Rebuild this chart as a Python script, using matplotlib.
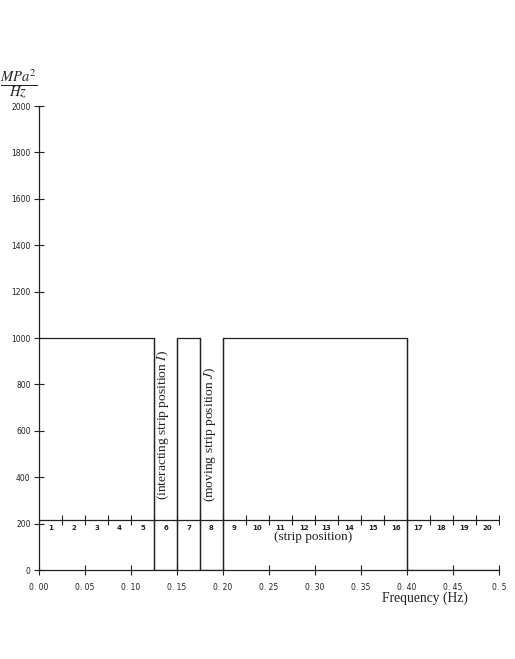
import numpy as np
import matplotlib.pyplot as plt

# PSD piecewise-constant spectrum (MPa^2/Hz)
freq_edges = [0.0, 0.125, 0.15, 0.175, 0.2, 0.4, 0.5]
psd_levels = [1000, 0, 1000, 0, 1000, 0]

# strip position scale
strip_labels = [str(k) for k in range(1, 21)]
strip_width = 0.025
strip_level = 215

x_ticks = [0.0, 0.05, 0.10, 0.15, 0.20, 0.25, 0.30, 0.35, 0.40, 0.45, 0.5]
x_ticklabels = ["0. 00", "0. 05", "0. 10", "0. 15", "0. 20", "0. 25",
                "0. 30", "0. 35", "0. 40", "0. 45", "0. 5"]
y_ticks = list(range(0, 2001, 200))

ink = "#222222"
serif = "Liberation Serif"
plt.rcParams["mathtext.fontset"] = "stix"

fig = plt.figure(figsize=(5.15, 6.59), dpi=100)
ax = fig.add_axes([39 / 515, 1 - 570 / 659, 460 / 515, 464 / 659])

# spectrum
ax.stairs(psd_levels, freq_edges, baseline=None, color=ink, lw=0.9)
for e in freq_edges[1:-1]:
    ax.plot([e, e], [0, max(psd_levels)], color=ink, lw=0.9)

# strip-position axis
strip_edges = np.arange(len(strip_labels) + 1) * strip_width
ax.plot([0, 0.5], [strip_level, strip_level], color=ink, lw=0.9)
ax.plot(strip_edges[1:], [strip_level] * (len(strip_edges) - 1), ls="none",
        marker="|", ms=7, mew=0.8, color=ink)
for i, lab in enumerate(strip_labels):
    ax.text((i + 0.5) * strip_width, strip_level - 20, lab, ha="center", va="top",
            fontsize=5, family="DejaVu Sans", weight="bold", color=ink)
ax.text(0.2975, 142, "(strip position)", ha="center", va="center",
        family=serif, fontsize=9.5, color=ink)

# rotated annotations
ax.text(0.1348, 302, "(interacting strip position $I$)", rotation=90,
        ha="center", va="bottom", family=serif, fontsize=9.7, color=ink)
ax.text(0.1855, 295, "(moving strip position $J$)", rotation=90,
        ha="center", va="bottom", family=serif, fontsize=9.7, color=ink)

ax.set_xlim(0, 0.5)
ax.set_ylim(0, 2000)
ax.set_xticks(x_ticks)
ax.set_xticklabels(x_ticklabels)
ax.set_yticks(y_ticks)
ax.tick_params(direction="inout", length=7, width=0.8, color=ink,
               labelsize=5.5, labelcolor=ink)
ax.tick_params(axis="x", pad=5.5)
ax.tick_params(axis="y", pad=2.5)
for lab in ax.get_xticklabels() + ax.get_yticklabels():
    lab.set_family("DejaVu Sans")
for s in ["top", "right"]:
    ax.spines[s].set_visible(False)
for s in ["left", "bottom"]:
    ax.spines[s].set_color(ink)
    ax.spines[s].set_linewidth(0.9)
ax.patch.set_alpha(0)

fig.text(425 / 515, 1 - 598 / 659, "Frequency (Hz)", ha="center", va="center",
         family=serif, fontsize=9.8, color=ink)
fig.text(0 / 515, 1 - 84 / 659, r"$\frac{MPa^2}{Hz}$", ha="left", va="center",
         fontsize=15, color=ink)

fig.savefig("out.png", dpi=100)
